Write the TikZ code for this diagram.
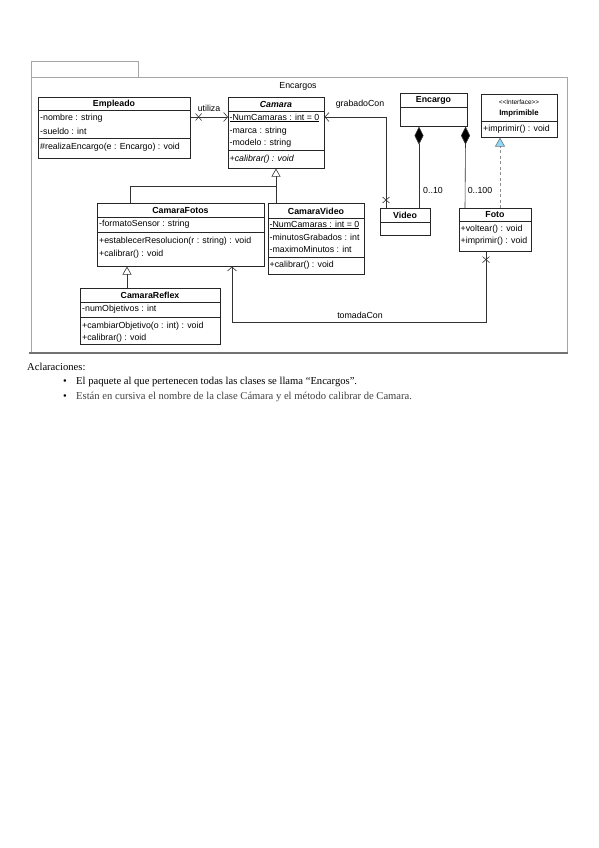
\documentclass[tikz,border=0pt]{standalone}
\usepackage{fontspec}
\setmainfont{Liberation Serif}
\newfontfamily\umlfont{Liberation Sans}
\usetikzlibrary{arrows.meta,calc}
\begin{document}
\begin{tikzpicture}[x=1pt,y=-1pt,
 cls/.style={draw=black!85,line width=0.6pt,fill=white,anchor=north west,inner sep=0pt},
 ttl/.style={font=\umlfont\fontsize{8.8}{10}\selectfont\bfseries,inner sep=0pt},
 mem/.style={font=\umlfont\fontsize{8.8}{10}\selectfont,anchor=west,inner sep=0pt},
 sepl/.style={draw=black!85,line width=0.6pt},
 conn/.style={draw=black!80,line width=0.6pt},
 nav/.style={conn,-{Straight Barb[length=4pt,width=9pt]}},
 gen/.style={conn,-{Triangle[open,length=8pt,width=9pt]}},
 comp/.style={conn,{Diamond[length=18pt,width=9pt,fill=black]}-},
 lbl/.style={font=\umlfont\fontsize{8.8}{10}\selectfont,inner sep=0pt},
 frame/.style={draw=black!35,line width=0.8pt},
 note/.style={font=\fontsize{10.6}{12}\selectfont,anchor=west,inner sep=0pt}
]
\useasboundingbox (0,0) rectangle (599,848);
\fill[white] (0,0) rectangle (599,848);

% package frame
\draw[frame] (31,77) rectangle (138,61);
\draw[frame] (31,77) rectangle (567,353);
\draw[draw=black!55,line width=1.5pt] (29,353) -- (568,353);
\node[lbl] (pkg) at (298,86) {Encargos};

% classes
\node[cls,minimum width=152pt,minimum height=61pt] (emp) at (38,97) {};
\node[cls,minimum width=96pt,minimum height=71pt] (cam) at (228,97) {};
\node[cls,minimum width=67pt,minimum height=33pt] (enc) at (400,93) {};
\node[cls,minimum width=76pt,minimum height=43pt] (imp) at (481,94) {};
\node[cls,minimum width=167pt,minimum height=63pt] (cf) at (97,203) {};
\node[cls,minimum width=96pt,minimum height=71pt] (cv) at (268,203) {};
\node[cls,minimum width=50pt,minimum height=27pt] (vid) at (380,208) {};
\node[cls,minimum width=72pt,minimum height=43pt] (foto) at (459,208) {};
\node[cls,minimum width=140pt,minimum height=56pt] (cr) at (80,288) {};

% Empleado
\node[ttl] (empt) at (114,104) {Empleado};
\draw[sepl] (38,110) -- (190,110);
\node[mem] (emp1) at (40,118) {-nombre : string};
\node[mem] (emp2) at (40,131) {-sueldo : int};
\draw[sepl] (38,138) -- (190,138);
\node[mem] (emp3) at (40,147) {\#realizaEncargo(e : Encargo) : void};

% Camara
\node[ttl] (camt) at (276,104) {\itshape Camara};
\draw[sepl] (228,111) -- (324,111);
\node[mem] (cam1) at (229.5,118) {\underline{-NumCamaras : int = 0}};
\node[mem] (cam2) at (229.5,131) {-marca : string};
\node[mem] (cam3) at (229.5,143) {-modelo : string};
\draw[sepl] (228,150) -- (324,150);
\node[mem] (cam4) at (229.5,159) {\itshape +calibrar() : void};

% Encargo
\node[ttl] (enct) at (433.5,100) {Encargo};
\draw[sepl] (400,107) -- (467,107);

% Imprimible
\node[lbl,font=\umlfont\fontsize{6.5}{7}\selectfont] (impa) at (519,102) {<{}<Interface>{}>};
\node[ttl,font=\umlfont\fontsize{7.8}{9}\selectfont\bfseries] (impt) at (519,113) {Imprimible};
\draw[sepl] (481,121) -- (557,121);
\node[mem] (imp1) at (483,129) {+imprimir() : void};

% CamaraFotos
\node[ttl] (cft) at (180.5,210) {CamaraFotos};
\draw[sepl] (97,217) -- (264,217);
\node[mem] (cf1) at (99,224) {-formatoSensor : string};
\draw[sepl] (97,232) -- (264,232);
\node[mem] (cf2) at (99,241) {+establecerResolucion(r : string) : void};
\node[mem] (cf3) at (99,254) {+calibrar() : void};

% CamaraVideo
\node[ttl] (cvt) at (316,211) {CamaraVideo};
\draw[sepl] (268,218) -- (364,218);
\node[mem] (cv1) at (269.5,225) {\underline{-NumCamaras : int = 0}};
\node[mem] (cv2) at (269.5,237) {-minutosGrabados : int};
\node[mem] (cv3) at (269.5,249) {-maximoMinutos : int};
\draw[sepl] (268,257) -- (364,257);
\node[mem] (cv4) at (269.5,265) {+calibrar() : void};

% Video
\node[ttl] (vidt) at (405,215) {Video};
\draw[sepl] (380,222) -- (430,222);

% Foto
\node[ttl] (fotot) at (495,215) {Foto};
\draw[sepl] (459,221) -- (531,221);
\node[mem] (foto1) at (460.5,229) {+voltear() : void};
\node[mem] (foto2) at (460.5,241) {+imprimir() : void};

% CamaraReflex
\node[ttl] (crt) at (150,295) {CamaraReflex};
\draw[sepl] (80,302) -- (220,302);
\node[mem] (cr1) at (82,309) {-numObjetivos : int};
\draw[sepl] (80,317) -- (220,317);
\node[mem] (cr2) at (82,326) {+cambiarObjetivo(o : int) : void};
\node[mem] (cr3) at (82,338) {+calibrar() : void};

% utiliza
\draw[nav] ($(emp.north east)+(0,20)$) -- ($(cam.north west)+(0,20)$);
\coordinate (x1) at ($(emp.north east)+(8,20)$);
\draw[conn] ($(x1)+(-3,-3.5)$) -- ($(x1)+(3,3.5)$) ($(x1)+(-3,3.5)$) -- ($(x1)+(3,-3.5)$);
\node[lbl] (lutil) at (209,108) {utiliza};

% generalizations
\coordinate (g1) at (276,186);
\draw[gen] ($(cv.north west)+(8,0)$) -- ($(cam.south west)+(48,0)$);
\draw[conn] ($(cf.north west)+(33,0)$) |- (g1);
\draw[gen] ($(cr.north west)+(47,0)$) -- ($(cf.south west)+(30,0)$);

% grabadoCon
\draw[nav] ($(vid.north west)+(6,0)$) |- ($(cam.north east)+(0,20)$);
\coordinate (x2) at ($(vid.north west)+(6,-8)$);
\draw[conn] ($(x2)+(-3.5,-3)$) -- ($(x2)+(3.5,3)$) ($(x2)+(-3.5,3)$) -- ($(x2)+(3.5,-3)$);
\node[lbl] (lgrab) at (360,104) {grabadoCon};

% compositions
\draw[comp] ($(enc.south west)+(19,0)$) -- ($(vid.north west)+(39,0)$);
\draw[comp] ($(enc.south east)+(-2,0)$) -- ($(foto.north west)+(6,0)$);
\node[lbl] (l10) at (433,190) {0..10};
\node[lbl] (l100) at (480,190) {0..100};

% realization
\draw[draw=black!45,line width=0.6pt,dash pattern=on 3pt off 2.5pt,-{Triangle[length=9pt,width=10pt,fill=cyan!45,color=black!55]}] ($(foto.north west)+(41,0)$) -- ($(imp.south west)+(19,0)$);

% tomadaCon
\draw[nav] ($(foto.south west)+(27,0)$) -- ++(0,71) -| ($(cf.south west)+(135,0)$);
\coordinate (x3) at ($(foto.south west)+(27,8)$);
\draw[conn] ($(x3)+(-3.5,-3)$) -- ($(x3)+(3.5,3)$) ($(x3)+(-3.5,3)$) -- ($(x3)+(3.5,-3)$);
\node[lbl] (ltom) at (360,315) {tomadaCon};

% notes
\node[note] (acl) at (27,367) {Aclaraciones:};
\node[note] (b1) at (63,382) {\textbullet};
\node[note] (n1) at (76,382) {El paquete al que pertenecen todas las clases se llama “Encargos”.};
\node[note] (b2) at (63,397) {\textbullet};
\node[note,text=black!75] (n2) at (76,397) {Están en cursiva el nombre de la clase Cámara y el método calibrar de Camara.};
\end{tikzpicture}
\end{document}
